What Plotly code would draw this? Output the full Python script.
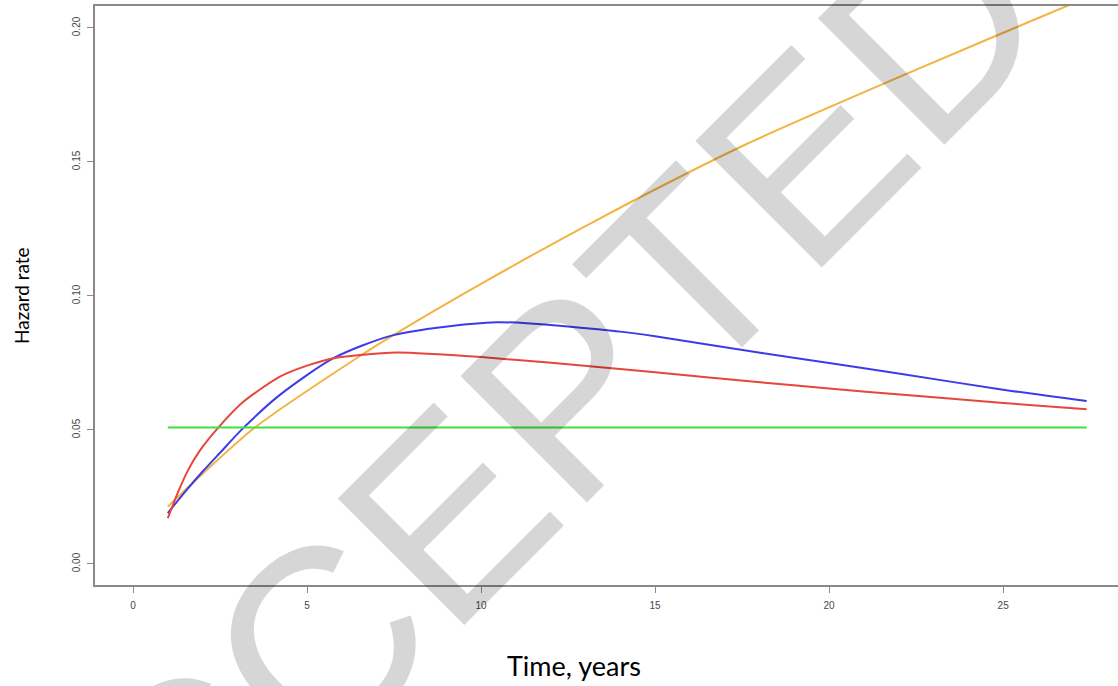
import plotly.graph_objects as go

# ---- data ----
red_x = [1.0, 1.3, 1.6, 1.93, 2.45, 3.17, 4.22, 5.0, 5.76, 6.52, 7.58, 10.0, 13.99, 15.0, 18.02, 20.0, 22.04, 25.0, 27.4]
red_y = [0.0171, 0.0270, 0.0355, 0.0425, 0.0509, 0.0605, 0.0699, 0.0740, 0.0768, 0.0780, 0.0789, 0.0772, 0.0728, 0.0715, 0.0678, 0.0655, 0.0632, 0.0601, 0.0577]

blue_x = [1.0, 1.5, 2.0, 2.5, 3.15, 4.22, 5.76, 7.48, 10.45, 13.99, 15.0, 18.02, 20.0, 22.04, 25.0, 27.4]
blue_y = [0.019, 0.027, 0.0345, 0.0415, 0.0505, 0.0631, 0.0768, 0.0854, 0.0902, 0.0867, 0.0850, 0.0788, 0.0750, 0.0710, 0.0650, 0.0608]

orange_x = [1.0, 1.83, 3.5, 6.52, 7.48, 10.2, 13.42, 17.63, 22.71, 26.83, 27.4]
orange_y = [0.0214, 0.0316, 0.0509, 0.0776, 0.0854, 0.106, 0.129, 0.1567, 0.1856, 0.2082, 0.2113]

green_x = [1.0, 27.4]
green_y = [0.0509, 0.0509]

x_ticks = [0, 5, 10, 15, 20, 25]
y_ticks = [0.00, 0.05, 0.10, 0.15, 0.20]
y_tick_text = ["0.00", "0.05", "0.10", "0.15", "0.20"]

series = [
    (orange_x, orange_y, "#f3b341"),
    (blue_x, blue_y, "#3c3ce6"),
    (red_x, red_y, "#e8453c"),
    (green_x, green_y, "#3fe03f"),
]

fig = go.Figure()
for xs, ys, col in series:
    fig.add_trace(go.Scatter(x=xs, y=ys, mode="lines",
                             line=dict(color=col, width=2, shape="spline", smoothing=0.7),
                             showlegend=False, hoverinfo="skip"))

axis_col = "#8a8a8a"
tick_font = dict(family="Liberation Sans, Arial, sans-serif", size=10, color="#484848")

fig.update_layout(
    width=1118, height=686,
    margin=dict(l=95, r=0, t=6, b=101),
    paper_bgcolor="white", plot_bgcolor="white",
    xaxis=dict(range=[-1.092, 28.30], tickvals=x_ticks, ticks="outside", ticklen=6,
               tickcolor=axis_col, showline=True, linecolor=axis_col, linewidth=1.5,
               mirror=True, showgrid=False, zeroline=False, tickfont=tick_font,
               ticklabelstandoff=4),
    yaxis=dict(range=[-0.00784, 0.2082], tickvals=y_ticks, ticktext=y_tick_text,
               ticks="outside", ticklen=6, tickcolor=axis_col, showline=True,
               linecolor=axis_col, linewidth=1.5, mirror=False, showgrid=False,
               zeroline=False, tickfont=tick_font, tickangle=-90,
               ticklabelstandoff=3),
    font=dict(family="Lato, sans-serif"),
)

# axis titles
fig.add_annotation(text="Time, years", xref="paper", yref="paper",
                   x=(574 - 95) / 1023, y=(585 - 665) / 579, showarrow=False,
                   xanchor="center", yanchor="middle",
                   font=dict(family="Lato, sans-serif", size=27, color="black"))
fig.add_annotation(text="Hazard rate", xref="paper", yref="paper",
                   x=(22 - 95) / 1023, y=(585 - 296) / 579, showarrow=False,
                   textangle=-90, xanchor="center", yanchor="middle",
                   font=dict(family="Lato, sans-serif", size=19, color="black"))

# watermark
fig.add_annotation(text="ACCEPTED", xref="paper", yref="paper",
                   x=(498 - 95) / 1023, y=(585 - 464) / 579, showarrow=False,
                   textangle=-45, xanchor="center", yanchor="middle",
                   font=dict(family="Liberation Sans, Arial, sans-serif", size=260,
                             color="rgba(0,0,0,0.16)"))

fig.write_html("out.html", config={"displayModeBar": False},
               post_script="document.body.style.margin='0';document.body.style.overflow='hidden';")
